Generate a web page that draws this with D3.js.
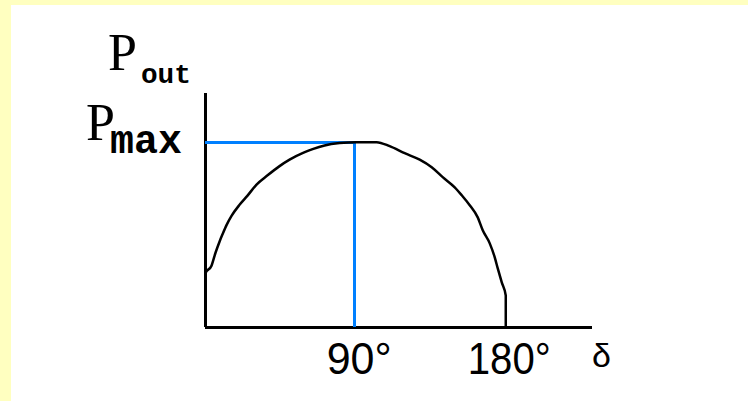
<!DOCTYPE html>
<html>
<head>
<title>Pout vs delta</title>
<script src="https://d3js.org/d3.v7.min.js"></script>
<style>
  body { margin: 0; background: #ffffc0; }
  .axis path { stroke: #000; stroke-width: 3; shape-rendering: crispEdges; }
  .axis text { font-family: "Liberation Sans", Arial, sans-serif; font-size: 44px; fill: #000; }
  .guide { stroke: #0080ff; stroke-width: 3; shape-rendering: crispEdges; }
  .curve { fill: none; stroke: #000; stroke-width: 2.5; }
</style>
</head>
<body>
<div class="chart"></div>
<script>
// power angle curve (delta in degrees, P as fraction of Pmax)
var delta = [0.6, 0.6, 4.2, 6.6, 9, 10.8, 13.2, 16.2, 21, 25.8, 31.2, 37.8, 45, 51, 59.4, 64.8, 72, 81, 91.2,
             103.2, 111, 120, 129, 136.2, 142.8, 150, 154.2, 159, 163.8, 166.8, 171, 174, 175.8, 178.2, 180.6, 180.6];
var power = [0.18, 0.29, 0.33, 0.40, 0.46, 0.50, 0.55, 0.60, 0.66, 0.71, 0.77, 0.82, 0.87, 0.905, 0.943, 0.962, 0.982, 0.995, 1,
             1, 0.978, 0.94, 0.905, 0.864, 0.81, 0.755, 0.712, 0.658, 0.592, 0.522, 0.451, 0.375, 0.315, 0.239, 0.168, 0];
var tickDeg = [90, 180];
var tickLabels = ["90°", "180°"];
var pmax = 1;

var W = 748, H = 401;

var svg = d3.select(".chart").append("svg")
  .attr("width", W)
  .attr("height", H)
  .style("display", "block");

svg.append("rect").attr("width", W).attr("height", H).attr("fill", "#ffffc0");
svg.append("rect").attr("x", 11).attr("y", 5).attr("width", W - 11).attr("height", H - 5).attr("fill", "#fff");

var x = d3.scaleLinear().domain([0, 232]).range([204.5, 591.5]);
var y = d3.scaleLinear().domain([0, 1.272]).range([326.5, 92]);

// x axis with the two degree labels
var xAxis = svg.append("g")
  .attr("class", "axis")
  .attr("transform", "translate(0," + y(0) + ")")
  .call(d3.axisBottom(x)
    .tickValues(tickDeg)
    .tickSize(0)
    .tickSizeOuter(0)
    .tickPadding(16)
    .tickFormat(function(d, i) { return tickLabels[i]; }));
xAxis.selectAll("text")
  .attr("dx", 4)
  .attr("textLength", function(d, i) { return i == 0 ? 65 : 83; })
  .attr("lengthAdjust", "spacingAndGlyphs");

svg.append("g")
  .attr("class", "axis")
  .attr("transform", "translate(" + x(0) + ",0)")
  .call(d3.axisLeft(y).tickValues([]).tickSizeOuter(0));

// blue guide lines to the peak
svg.append("line").attr("class", "guide")
  .attr("x1", x(0)).attr("x2", x(90) + 1.5)
  .attr("y1", y(pmax)).attr("y2", y(pmax));
svg.append("line").attr("class", "guide")
  .attr("x1", x(90)).attr("x2", x(90))
  .attr("y1", y(pmax)).attr("y2", y(0));

var line = d3.line()
  .x(function(d) { return x(d[0]); })
  .y(function(d) { return y(d[1]); })
  .curve(d3.curveMonotoneX);

svg.append("path")
  .attr("class", "curve")
  .attr("d", line(d3.zip(delta, power)));

// axis titles
function label(px, py, sub, subSize, subLen, dx, dy) {
  var t = svg.append("text").attr("x", px).attr("y", py).attr("fill", "#000");
  t.append("tspan")
    .style("font-family", "'Liberation Serif', 'Times New Roman', serif")
    .style("font-size", "52px")
    .text("P");
  t.append("tspan")
    .attr("dy", dy)
    .attr("dx", dx)
    .attr("textLength", subLen)
    .attr("lengthAdjust", "spacingAndGlyphs")
    .style("font-family", "'Liberation Mono', 'Courier New', monospace")
    .style("font-weight", "bold")
    .style("font-size", subSize + "px")
    .text(sub);
}
label(108, 70, "out", 28, 50, 4, 13);
label(86, y(pmax) - 2, "max", 40, 72, -5, 13);

svg.append("text")
  .attr("x", 592).attr("y", 367)
  .style("font-family", "'Liberation Sans', Arial, sans-serif")
  .style("font-size", "34px")
  .text("δ");
</script>
</body>
</html>
